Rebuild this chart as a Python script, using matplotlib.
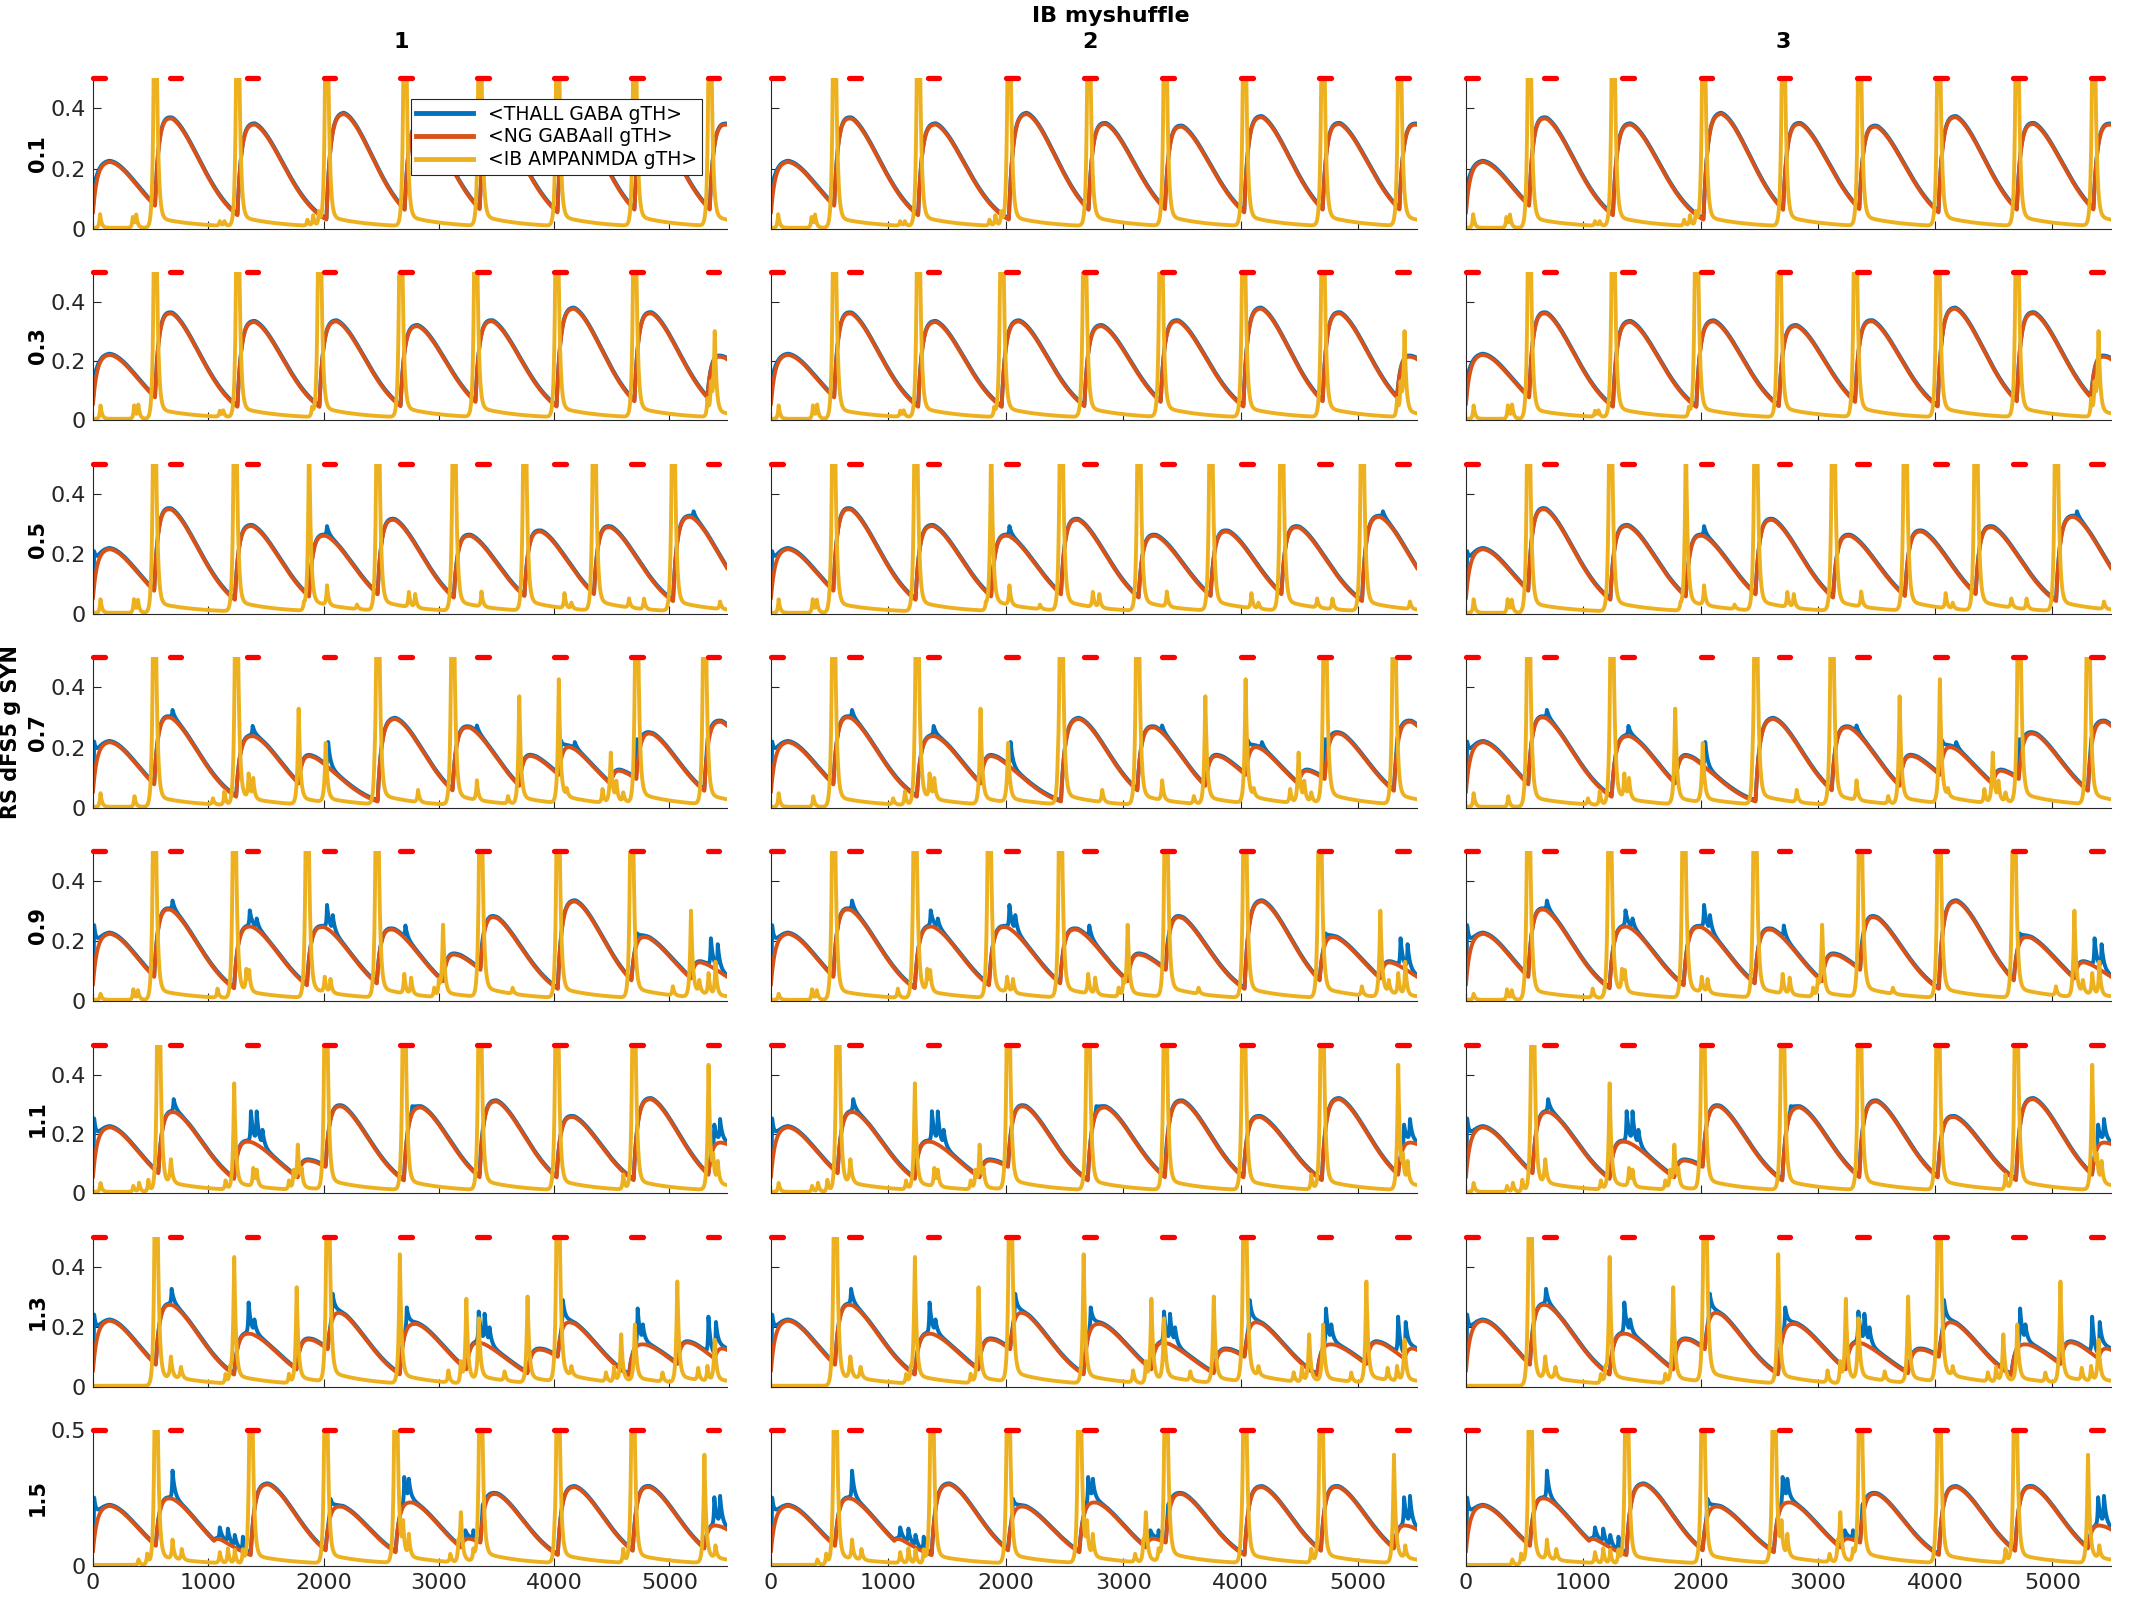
import numpy as np
import matplotlib.pyplot as plt

plt.rcParams['font.family'] = ['Liberation Sans Narrow', 'DejaVu Sans']

# time axis (ms)
t = np.arange(0, 5501)

row_labels = ['0.1', '0.3', '0.5', '0.7', '0.9', '1.1', '1.3', '1.5']
col_titles = ['1', '2', '3']
series_names = ['<THALL GABA gTH>', '<NG GABAall gTH>', '<IB AMPANMDA gTH>']
stim_on = [0, 667, 1333, 2000, 2667, 3333, 4000, 4667, 5333]
stim_len = 100
xticks = [0, 1000, 2000, 3000, 4000, 5000]

# big IB spikes: (time, height); height 1.5 = runs off the top of the axes
ib_spikes_1 = [(538, 1.5), (1253, 1.5), (2025, 1.5), (2704, 1.5), (3354, 1.5), (4029, 1.5), (4697, 1.5),
               (5350, 1.5)]
ib_spikes_2 = [(538, 1.5), (1253, 1.5), (1964, 1.5), (2668, 1.5), (3318, 1.5), (4022, 1.5), (4697, 1.5),
               (5393, 0.28)]
ib_spikes_3 = [(531, 1.5), (1231, 1.5), (1874, 0.6), (2469, 1.5), (3130, 1.5), (3743, 1.5), (4346, 1.5),
               (5032, 1.5)]
ib_spikes_4 = [(531, 1.5), (1242, 1.5), (1783, 0.315), (2018, 0.195), (2469, 1.5), (3119, 1.5),
               (3697, 0.356), (4040, 0.408), (4491, 0.167), (4714, 1.5), (5303, 1.5)]
ib_spikes_5 = [(531, 1.5), (1224, 1.5), (1856, 1.5), (2462, 1.5), (3036, 0.237), (3361, 1.5), (4032, 1.5),
               (4671, 1.5), (5187, 0.286)]
ib_spikes_6 = [(567, 1.5), (675, 0.083), (1224, 0.358), (1776, 0.147), (2018, 1.5), (2697, 1.5),
               (3354, 1.5), (4022, 1.5), (4690, 1.5), (5339, 0.42)]
ib_spikes_7 = [(545, 1.5), (675, 0.073), (762, 0.04), (1224, 0.417), (1766, 0.319), (2036, 1.5),
               (2661, 0.428), (3238, 0.279), (3346, 0.204), (3769, 0.286), (4032, 1.5), (4581, 0.16),
               (4700, 0.188), (5068, 0.336), (5393, 0.139)]
ib_spikes_8 = [(545, 1.5), (1368, 1.5), (2018, 1.5), (2625, 1.5), (3191, 0.172), (3361, 1.5), (4032, 1.5),
               (4682, 1.5), (5303, 0.396)]

# small IB bumps: (time, height)
ib_small_1 = [(61, 0.045), (345, 0.035), (375, 0.04), (1100, 0.015), (1140, 0.015), (1860, 0.02),
              (1910, 0.035), (1960, 0.045)]
ib_small_2 = [(65, 0.045), (357, 0.045), (393, 0.045), (1100, 0.02), (1130, 0.02), (1900, 0.03),
              (1945, 0.04), (5330, 0.06), (5360, 0.1)]
ib_small_3 = [(65, 0.045), (355, 0.045), (390, 0.04), (1830, 0.02), (2030, 0.065), (2290, 0.015),
              (2740, 0.05), (2795, 0.045), (3370, 0.05), (4090, 0.05), (4150, 0.02), (4650, 0.03),
              (4780, 0.035), (5440, 0.025)]
ib_small_4 = [(65, 0.045), (360, 0.035), (1040, 0.02), (1140, 0.045), (1350, 0.08), (1390, 0.065),
              (2440, 0.03), (2820, 0.04), (3330, 0.065), (3600, 0.025), (4110, 0.025), (4420, 0.045),
              (4540, 0.06), (4600, 0.03)]
ib_small_5 = [(65, 0.02), (350, 0.035), (390, 0.03), (1080, 0.03), (1330, 0.07), (1355, 0.06),
              (2010, 0.05), (2060, 0.045), (2700, 0.065), (2760, 0.055), (2960, 0.03), (3000, 0.05),
              (3640, 0.02), (5030, 0.03), (5260, 0.04), (5340, 0.07), (5400, 0.11)]
ib_small_6 = [(65, 0.03), (350, 0.02), (400, 0.03), (480, 0.04), (1150, 0.03), (1390, 0.06), (1420, 0.05),
              (1700, 0.03), (1740, 0.06), (1810, 0.05), (4600, 0.05), (5380, 0.07), (5420, 0.07)]
ib_small_7 = [(1150, 0.03), (1190, 0.04), (1700, 0.03), (3083, 0.04), (3191, 0.07), (3570, 0.03),
              (4150, 0.03), (4450, 0.03), (4520, 0.05), (4940, 0.03), (5250, 0.04), (5330, 0.05)]
ib_small_8 = [(395, 0.02), (470, 0.04), (690, 0.07), (770, 0.04), (1100, 0.04), (1170, 0.055),
              (1230, 0.05), (1300, 0.05), (2690, 0.11), (2740, 0.08), (3100, 0.03), (3170, 0.06),
              (3300, 0.04), (4000, 0.03), (4600, 0.05), (5400, 0.045)]

# NG GABA events: (onset time, peak value)
ng_peaks_1 = [(-10, 0.222), (538, 0.365), (1253, 0.346), (2025, 0.381), (2704, 0.347), (3354, 0.338),
              (4029, 0.37), (4697, 0.347), (5350, 0.345)]
ng_peaks_2 = [(-10, 0.22), (538, 0.359), (1253, 0.331), (1964, 0.333), (2668, 0.317), (3318, 0.333),
              (4022, 0.376), (4697, 0.36), (5330, 0.21)]
ng_peaks_3 = [(-10, 0.216), (531, 0.348), (1231, 0.293), (1874, 0.26), (2469, 0.313), (3130, 0.26),
              (3743, 0.274), (4346, 0.288), (5032, 0.324)]
ng_peaks_4 = [(-10, 0.218), (531, 0.298), (1242, 0.238), (1783, 0.165), (2469, 0.295), (3119, 0.266),
              (3697, 0.167), (4040, 0.192), (4491, 0.113), (4714, 0.243), (5303, 0.285)]
ng_peaks_5 = [(-10, 0.224), (531, 0.303), (1224, 0.248), (1856, 0.246), (2462, 0.237), (3036, 0.15),
              (3361, 0.275), (4032, 0.332), (4671, 0.21), (5187, 0.12)]
ng_peaks_6 = [(-10, 0.222), (567, 0.272), (1224, 0.172), (1776, 0.105), (2018, 0.291), (2697, 0.289),
              (3354, 0.309), (4022, 0.256), (4690, 0.317), (5339, 0.167)]
ng_peaks_7 = [(-10, 0.221), (545, 0.272), (1224, 0.177), (1766, 0.155), (2036, 0.239), (2661, 0.21),
              (3238, 0.144), (3769, 0.122), (4032, 0.21), (4650, 0.141), (5068, 0.142), (5393, 0.115)]
ng_peaks_8 = [(-10, 0.221), (545, 0.246), (1050, 0.075), (1368, 0.3), (2018, 0.217), (2625, 0.233),
              (3191, 0.09), (3361, 0.263), (4032, 0.29), (4682, 0.29), (5303, 0.144)]

# THALL excess over NG: (time, extra height)
th_extra_1 = [(10, 0.05)]
th_extra_2 = [(10, 0.05)]
th_extra_3 = [(10, 0.11), (2030, 0.03), (5210, 0.02)]
th_extra_4 = [(10, 0.12), (690, 0.025), (1385, 0.03), (2040, 0.08), (3330, 0.02), (4060, 0.06),
              (4180, 0.02), (4720, 0.1), (5330, 0.03)]
th_extra_5 = [(10, 0.15), (690, 0.03), (1360, 0.05), (1420, 0.03), (2030, 0.075), (2080, 0.05),
              (2710, 0.04), (3370, 0.02), (4720, 0.03), (5360, 0.09), (5420, 0.08)]
th_extra_6 = [(10, 0.15), (700, 0.04), (1370, 0.1), (1420, 0.1), (1470, 0.05), (2770, 0.02),
              (3360, 0.02), (5390, 0.07), (5440, 0.07)]
th_extra_7 = [(10, 0.14), (682, 0.05), (1350, 0.1), (1400, 0.04), (2079, 0.08), (2722, 0.07),
              (3346, 0.1), (3397, 0.09), (3440, 0.05), (4076, 0.09), (4725, 0.12), (4770, 0.05),
              (5339, 0.12), (5404, 0.1)]
th_extra_8 = [(10, 0.15), (690, 0.1), (1100, 0.04), (1170, 0.05), (1230, 0.04), (1300, 0.05),
              (2060, 0.06), (2700, 0.1), (2740, 0.07), (3230, 0.03), (3300, 0.03), (3380, 0.05),
              (5390, 0.1), (5440, 0.1)]

rows = [
    (ib_spikes_1, ib_small_1, ng_peaks_1, th_extra_1),
    (ib_spikes_2, ib_small_2, ng_peaks_2, th_extra_2),
    (ib_spikes_3, ib_small_3, ng_peaks_3, th_extra_3),
    (ib_spikes_4, ib_small_4, ng_peaks_4, th_extra_4),
    (ib_spikes_5, ib_small_5, ng_peaks_5, th_extra_5),
    (ib_spikes_6, ib_small_6, ng_peaks_6, th_extra_6),
    (ib_spikes_7, ib_small_7, ng_peaks_7, th_extra_7),
    (ib_spikes_8, ib_small_8, ng_peaks_8, th_extra_8),
]

TP = 150.0   # onset to peak of the GABA wave
TAU = 386.0


def pulse(u, rise, fall):
    return np.where(u < 0, np.exp(np.minimum(u, 0) / rise), np.exp(-np.maximum(u, 0) / fall))


def ng_kernel(u):
    u = np.asarray(u, dtype=float)
    up = np.maximum(u, 0)
    r = (1 - np.exp(-up / 35.0)) / (1 - np.exp(-TP / 35.0))
    d = np.exp(-(np.maximum(u - TP, 0) / TAU) ** 1.8)
    return np.where(u < 0, 0.0, np.where(u < TP, r, d))


def ng_trace(events):
    y = np.zeros(len(t))
    amps = []
    for i, (on, pk) in enumerate(events):
        resid = sum(a * float(ng_kernel(on + TP - o)) for (o, _), a in zip(events[:i], amps))
        a = max(pk - resid, 0.0)
        amps.append(a)
        y += a * ng_kernel(t - on)
    return y


def ib_trace(spikes, small):
    y = np.full(len(t), 0.004)
    for s, h in spikes:
        y += h * pulse(t - s, 11.0, 15.0)
        tail = 0.035 * min(h / 0.5, 1.0)
        y += np.where(t > s, tail * np.exp(-np.maximum(t - s, 0) / 350.0), 0.0)
    for s, h in small:
        y += h * pulse(t - s, 8.0, 14.0)
    return y


def th_trace(ng, extra):
    y = ng + 0.004
    for s, h in extra:
        y += h * pulse(t - s, 5.0, 20.0)
    return y


BLUE = '#0072BD'
ORANGE = '#D95319'
YELLOW = '#EDB120'
AXC = '#262626'

W, H = 2133, 1600
fig = plt.figure(figsize=(W / 100, H / 100), dpi=100)

col_left = [93, 771, 1466]
col_w = [634, 646, 645]
row_top = [78, 272, 464, 657, 851, 1045, 1237, 1430]
row_bot = [229, 420, 614, 808, 1001, 1193, 1387, 1566]

legend_lines = None
for r, (spk, small, ngp, extra) in enumerate(rows):
    ng = ng_trace(ngp)
    th = th_trace(ng, extra)
    ib = ib_trace(spk, small)
    for c in range(3):
        ax = fig.add_axes([col_left[c] / W, 1 - row_bot[r] / H, col_w[c] / W,
                           (row_bot[r] - row_top[r]) / H])
        l1, = ax.plot(t, th, color=BLUE, lw=2.8)
        l2, = ax.plot(t, ng, color=ORANGE, lw=2.8)
        l3, = ax.plot(t, ib, color=YELLOW, lw=2.8)
        for s in stim_on:
            ax.plot([s, s + stim_len], [0.5, 0.5], color='#FF0000', lw=3.8,
                    solid_capstyle='round', clip_on=False, zorder=5)
        ax.set_xlim(0, 5500)
        ax.set_ylim(0, 0.5)
        for sp in ['top', 'right']:
            ax.spines[sp].set_visible(False)
        for sp in ['left', 'bottom']:
            ax.spines[sp].set_color(AXC)
            ax.spines[sp].set_linewidth(0.8)
        ax.set_xticks(xticks)
        if r == len(rows) - 1:
            ax.set_yticks([0, 0.5])
            ax.set_yticklabels(['0', '0.5'])
        else:
            ax.set_yticks([0, 0.2, 0.4])
            ax.set_yticklabels(['0', '0.2', '0.4'])
        ax.tick_params(direction='in', length=6, width=0.8, colors=AXC, labelsize=16, pad=5)
        if c > 0:
            ax.set_yticklabels([])
        if r < len(rows) - 1:
            ax.set_xticklabels([])
        if r == 0 and c == 0:
            legend_lines = (ax, [l1, l2, l3])

ax0, lines = legend_lines
leg = ax0.legend(lines, series_names, loc='upper left', bbox_to_anchor=(0.501, 0.861),
                 fontsize=13.5, frameon=True, fancybox=False, framealpha=1, borderaxespad=0,
                 handlelength=3.0, borderpad=0.3, labelspacing=0.2, handletextpad=0.8)
leg.get_frame().set_edgecolor(AXC)
leg.get_frame().set_linewidth(0.8)
for ln in leg.get_lines():
    ln.set_linewidth(3.5)

fig.text(1111 / W, 1 - 16 / H, 'IB myshuffle', ha='center', va='center', fontsize=16,
         fontweight='bold', color='black')
for c, x in enumerate([401, 1090, 1783]):
    fig.text(x / W, 1 - 42 / H, col_titles[c], ha='center', va='center', fontsize=16,
             fontweight='bold', color='black')
for r, lab in enumerate(row_labels):
    yc = 1 - (row_top[r] + row_bot[r]) / 2 / H
    fig.text(38 / W, yc, lab, ha='center', va='center', rotation=90, fontsize=15,
             fontweight='bold', family='DejaVu Sans')
fig.text(11 / W, 1 - (row_top[3] + row_bot[3]) / 2 / H, 'RS dFS5 g SYN', ha='center', va='center',
         rotation=90, fontsize=15, fontweight='bold', family='DejaVu Sans')

fig.savefig('out.png', dpi=100)
